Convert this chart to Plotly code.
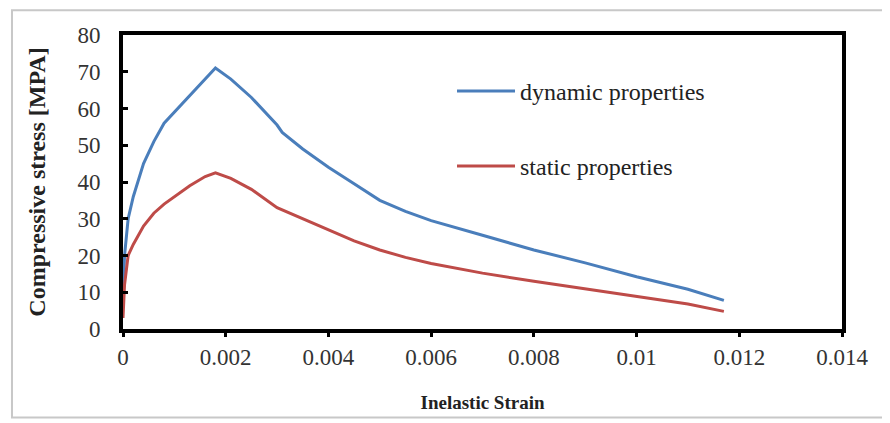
import plotly.graph_objects as go

# Data
dyn_strain = [0, 0.00003, 0.0001, 0.0002, 0.0004, 0.0006, 0.0008, 0.001, 0.0013, 0.0016, 0.0018,
              0.0021, 0.0025, 0.003, 0.0031, 0.0035, 0.004, 0.0045, 0.005, 0.0055, 0.006,
              0.007, 0.008, 0.009, 0.01, 0.011, 0.0117]
dyn_stress = [8, 20, 30, 36, 45, 51, 56, 59, 63.5, 68, 71,
              68, 63, 55.5, 53.5, 49, 44, 39.5, 35, 32, 29.5,
              25.5, 21.5, 18, 14.2, 10.8, 7.8]

sta_strain = [0, 0.00003, 0.0001, 0.0002, 0.0004, 0.0006, 0.0008, 0.001, 0.0013, 0.0016, 0.0018,
              0.0021, 0.0025, 0.003, 0.0035, 0.004, 0.0045, 0.005, 0.0055, 0.006,
              0.007, 0.008, 0.009, 0.01, 0.011, 0.0117]
sta_stress = [3, 12, 20, 23, 28, 31.5, 34, 36, 39, 41.5, 42.5,
              41, 38, 33, 30, 27, 24, 21.5, 19.5, 17.8,
              15.2, 13, 11, 8.9, 6.8, 4.8]

x_ticks = [0, 0.002, 0.004, 0.006, 0.008, 0.01, 0.012, 0.014]
x_tick_labels = ["0", "0.002", "0.004", "0.006", "0.008", "0.01", "0.012", "0.014"]
y_ticks = [0, 10, 20, 30, 40, 50, 60, 70, 80]

fig = go.Figure()
fig.add_trace(go.Scatter(x=dyn_strain, y=dyn_stress, mode="lines", name="dynamic properties",
                         legendgroup="a", line=dict(color="#4a7ebb", width=3)))
fig.add_trace(go.Scatter(x=sta_strain, y=sta_stress, mode="lines", name="static properties",
                         legendgroup="b", line=dict(color="#be4b48", width=3)))

font_family = "Liberation Serif, Times New Roman, serif"
fig.update_layout(
    width=882, height=415,
    margin=dict(l=115, r=48, t=27, b=92),
    paper_bgcolor="white", plot_bgcolor="white",
    font=dict(family=font_family, color="#222222"),
    showlegend=True,
    legend=dict(x=0.4576, y=0.885, xanchor="left", yanchor="top",
                font=dict(family=font_family, size=24, color="#222222"),
                itemwidth=58, tracegroupgap=41, bgcolor="rgba(0,0,0,0)"),
    xaxis=dict(range=[0, 0.014], tickvals=x_ticks, ticktext=x_tick_labels,
               showgrid=False, zeroline=False, showline=True, linecolor="black",
               linewidth=4, mirror=True, ticks="outside", ticklen=4, tickwidth=3,
               tickcolor="black", tickfont=dict(family=font_family, size=23, color="#333333"),
               title=dict(text="<b>Inelastic Strain</b>",
                          font=dict(family=font_family, size=19, color="#222222"),
                          standoff=28)),
    yaxis=dict(range=[0, 80], tickvals=y_ticks,
               showgrid=False, zeroline=False, showline=True, linecolor="black",
               linewidth=4, mirror=True, ticks="inside", ticklen=5, tickwidth=3,
               tickcolor="black", tickfont=dict(family=font_family, size=23, color="#333333"),
               ticklabelstandoff=14,
               title=dict(text="<b>Compressive stress [MPA]</b>",
                          font=dict(family=font_family, size=24, color="#222222"),
                          standoff=26)),
)

fig.add_shape(type="rect", xref="paper", yref="paper",
              x0=-0.1544, x1=1.064, y0=-0.3007, y1=1.0845,
              line=dict(color="#c8c8c8", width=2), layer="below")

fig.write_html("out.html")
